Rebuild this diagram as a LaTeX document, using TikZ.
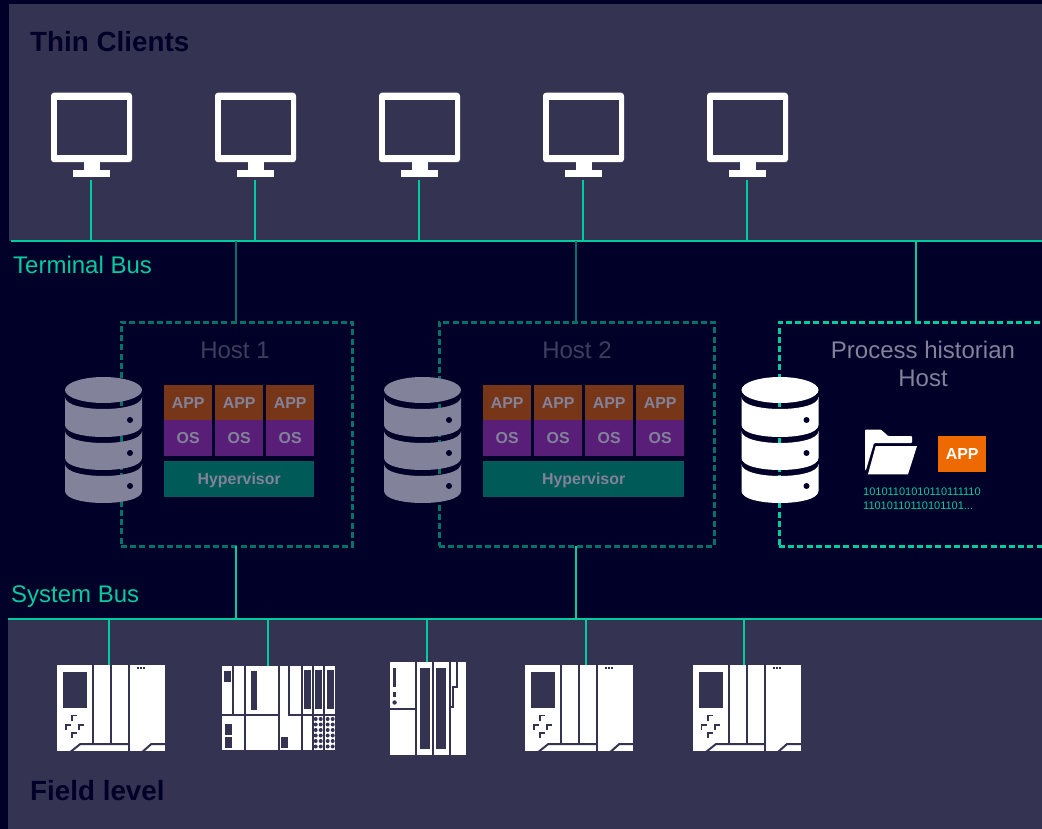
\documentclass[tikz,border=0pt]{standalone}
\usepackage{fontspec}
\setmainfont{Liberation Sans}
\usepackage{tikz}
\definecolor{nuit}{HTML}{000028}
\definecolor{ardoise}{HTML}{343452}
\definecolor{vert}{HTML}{00CCA0}
\definecolor{sapin}{HTML}{007268}
\definecolor{brun}{HTML}{783618}
\definecolor{mauve}{HTML}{581E78}
\definecolor{canard}{HTML}{005A58}
\definecolor{gris}{HTML}{82829A}
\definecolor{brume}{HTML}{3E3E5C}
\definecolor{orange}{HTML}{EE6A00}
\tikzset{
  panel/.style={
    rectangle,
    anchor=north west,
    inner sep=0pt,
    fill=ardoise},
  bus/.style={
    line width=2.2pt,
    vert},
  busdim/.style={
    line width=2.2pt,
    sapin},
  hostbox/.style={
    rectangle,
    anchor=north west,
    inner sep=0pt,
    outer sep=0pt,
    line width=3pt,
    dash pattern=on 6pt off 3.2pt},
  stackbox/.style={
    rectangle,
    anchor=north west,
    inner sep=0pt,
    text=gris,
    text height=11.4pt,
    text depth=0pt,
    font=\fontsize{15.9}{18}\selectfont\bfseries},
  big/.style={
    inner sep=0pt,
    font=\fontsize{24}{28.5}\selectfont},
  title/.style={
    anchor=base west,
    inner sep=0pt,
    text=nuit,
    font=\fontsize{27.8}{32}\selectfont\bfseries},
  cut/.style={
    line width=2pt,
    draw=ardoise},
  pics/client/.style={code={
    \node[rectangle,
      inner sep=0pt,
      outer sep=0pt,
      fill=white,
      rounded corners=3pt,
      minimum width=81pt,
      minimum height=69.5pt] (-screen) at (0,-7.5) {};
    \fill[ardoise] (-34.7,-35) rectangle (35.3,20);
    \fill[white] (-8,26) rectangle (8,36);
    \fill[white] (-18.5,35) rectangle (18.5,42);
    \coordinate (-foot) at (-0.2,45);
  }},
  pics/disk/.style={code={
    \fill[#1] (0,0) ellipse [x radius=38.5pt, y radius=13pt];
    \fill[#1] (-38.5,7) .. controls (-38.5,23) and (38.5,23) .. (38.5,7)
      -- (38.5,35) .. controls (38.5,51) and (-38.5,51) .. (-38.5,35) -- cycle;
    \fill[#1] (-38.5,41) .. controls (-38.5,57) and (38.5,57) .. (38.5,41)
      -- (38.5,68) .. controls (38.5,84) and (-38.5,84) .. (-38.5,68) -- cycle;
    \fill[#1] (-38.5,74) .. controls (-38.5,90) and (38.5,90) .. (38.5,74)
      -- (38.5,101) .. controls (38.5,117) and (-38.5,117) .. (-38.5,101) -- cycle;
    \fill[nuit] (26.5,30) circle (3pt);
    \fill[nuit] (26.5,63) circle (3pt);
    \fill[nuit] (26.5,96) circle (3pt);
  }},
  pics/plca/.style={code={
    \fill[white] (0,0) rectangle (108,86);
    \fill[ardoise] (6,7) rectangle (30,43);
    \draw[cut] (36,0) -- (36,79);
    \draw[cut] (54,0) -- (54,79);
    \draw[cut] (72,0) -- (72,86);
    \draw[cut] (13,87) -- (23,79) -- (71,79);
    \draw[cut] (85,87) -- (94,79) -- (109,79);
    \draw[cut,line width=1.7pt] (15,56) -- (15,50.5) -- (20,50.5);
    \draw[cut,line width=1.7pt] (8.5,65) -- (8.5,60) -- (13.5,60);
    \draw[cut,line width=1.7pt] (22,65) -- (22,60) -- (27,60);
    \draw[cut,line width=1.7pt] (15,73) -- (15,68) -- (20,68);
    \fill[ardoise] (80,2) rectangle (82,4);
    \fill[ardoise] (83,2) rectangle (85,4);
    \fill[ardoise] (86,2) rectangle (88,4);
  }},
  pics/plcb/.style={code={
    \fill[white] (0,0) rectangle (113,84);
    \draw[cut] (11.3,0) -- (11.3,49);
    \draw[cut] (23,0) -- (23,84);
    \draw[cut] (0,49) -- (56.7,49);
    \draw[cut] (56.7,0) -- (56.7,84);
    \draw[cut] (67.3,0) -- (67.3,49) -- (113,49);
    \draw[cut] (79.7,0) -- (79.7,84);
    \draw[cut] (90.7,0) -- (90.7,84);
    \draw[cut] (102,0) -- (102,84);
    \fill[ardoise] (2.3,5.3) rectangle (9,16);
    \fill[ardoise] (28.7,5) rectangle (35.3,44);
    \fill[ardoise] (81.7,4.3) rectangle (88.7,43.3);
    \fill[ardoise] (93,4.3) rectangle (100,43.3);
    \fill[ardoise] (104.7,4.3) rectangle (111.7,43.3);
    \fill[ardoise] (3.3,58) rectangle (10.3,68.7);
    \fill[ardoise] (3.3,71.3) rectangle (10.3,82);
    \fill[ardoise] (58.7,71.3) rectangle (65.7,82);
    \foreach \u in {93.7,98.7,105.7,110.7}
      \foreach \v in {53,58.5,64,69.5,75,80.5}
        \fill[ardoise] (\u,\v) circle (2pt);
  }},
  pics/plcc/.style={code={
    \fill[white] (0,0) rectangle (76,93);
    \draw[cut] (26.3,0) -- (26.3,93);
    \draw[cut] (0,46.7) -- (26.3,46.7);
    \draw[cut] (43.3,0) -- (43.3,93);
    \draw[cut] (59.7,0) -- (59.7,93);
    \draw[cut] (67.3,0) -- (67.3,25.3) -- (62.7,25.3) -- (62.7,44.7) -- (59.7,44.7);
    \fill[ardoise] (3.4,6) rectangle (5.8,25);
    \fill[ardoise] (3.4,30) rectangle (5.8,35);
    \fill[ardoise] (4.6,40.5) circle (2.2pt);
    \fill[ardoise] (30,6) rectangle (40,87);
    \fill[ardoise] (46.3,6) rectangle (56.3,87);
  }}
}

\begin{document}
\begin{tikzpicture}[x=1pt, y=-1pt]

\useasboundingbox (0,0) rectangle (1042,829);
\fill[nuit] (0,0) rectangle (1042,829);

\coordinate (C1) at (91.5,135);
\coordinate (C2) at (255.5,135);
\coordinate (C3) at (419.5,135);
\coordinate (C4) at (583.5,135);
\coordinate (C5) at (747.5,135);
\coordinate (T0) at (11,241);
\coordinate (T1) at (1042,241);
\coordinate (S0) at (8,619);
\coordinate (S1) at (1042,619);
\coordinate (P1) at (109,665);
\coordinate (P2) at (268,666);
\coordinate (P3) at (427,662);
\coordinate (P4) at (586,665);
\coordinate (P5) at (744,665);

\node[panel,
  minimum width=1033pt,
  minimum height=237pt] (thin) at (9,4) {};

\node[panel,
  minimum width=1034pt,
  minimum height=210pt] (field) at (8,619) {};

\node[title] (thinlabel) at (30,51.3) {Thin Clients};
\node[title] (fieldlabel) at (30,800) {Field level};

\pic (c1) at (C1) {client};
\pic (c2) at (C2) {client};
\pic (c3) at (C3) {client};
\pic (c4) at (C4) {client};
\pic (c5) at (C5) {client};

\draw[bus] (T0) -- (T1);
\draw[bus] (S0) -- (S1);
\draw[bus] (c1-foot) -- (c1-foot |- T0);
\draw[bus] (c2-foot) -- (c2-foot |- T0);
\draw[bus] (c3-foot) -- (c3-foot |- T0);
\draw[bus] (c4-foot) -- (c4-foot |- T0);
\draw[bus] (c5-foot) -- (c5-foot |- T0);

\node[big,
  anchor=base west,
  text=vert] (tlabel) at (13,273.2) {Terminal Bus};

\node[big,
  anchor=base west,
  text=vert] (slabel) at (11,602.2) {System Bus};

\node[hostbox,
  draw=sapin,
  minimum width=231pt,
  minimum height=224pt] (host1) at (121,322) {};

\node[hostbox,
  draw=sapin,
  minimum width=275pt,
  minimum height=224pt] (host2) at (439,322) {};

\node[hostbox,
  draw=vert,
  minimum width=290pt,
  minimum height=224pt] (histo) at (779,322) {};

\draw[busdim] (host1.north -| 236,0) -- (T0 -| 236,0);
\draw[busdim] (host2.north -| 576,0) -- (T0 -| 576,0);
\draw[bus] (histo.north -| 916,0) -- (T0 -| 916,0);
\draw[bus] (host1.south -| 236,0) -- (S0 -| 236,0);
\draw[bus] (host2.south -| 576,0) -- (S0 -| 576,0);

\draw[bus] (P1) -- (P1 |- S0);
\draw[bus] (P2) -- (P2 |- S0);
\draw[bus] (P3) -- (P3 |- S0);
\draw[bus] (P4) -- (P4 |- S0);
\draw[bus] (P5) -- (P5 |- S0);

\node[big,
  anchor=base,
  text=brume] (host1label) at (235,358) {Host 1};

\node[big,
  anchor=base,
  text=brume] (host2label) at (577,358) {Host 2};

\node[big,
  align=center,
  anchor=center,
  text=gris] (histolabel) at (923,364) {Process historian\\Host};

\pic at (103.5,390) {disk=gris};
\pic at (422.5,390) {disk=gris};
\pic at (780,390) {disk=white};

% host 1
\node[stackbox, fill=brun, minimum width=48pt, minimum height=35pt] (a11) at (164,385) {APP};
\node[stackbox, fill=brun, minimum width=48pt, minimum height=35pt] (a12) at (215,385) {APP};
\node[stackbox, fill=brun, minimum width=48pt, minimum height=35pt] (a13) at (266,385) {APP};
\node[stackbox, fill=mauve, minimum width=48pt, minimum height=36pt] (o11) at (164,420) {OS};
\node[stackbox, fill=mauve, minimum width=48pt, minimum height=36pt] (o12) at (215,420) {OS};
\node[stackbox, fill=mauve, minimum width=48pt, minimum height=36pt] (o13) at (266,420) {OS};
\node[stackbox, fill=canard, minimum width=150pt, minimum height=36pt] (hv1) at (164,461) {Hypervisor};

% host 2
\node[stackbox, fill=brun, minimum width=48pt, minimum height=35pt] (a21) at (483,385) {APP};
\node[stackbox, fill=brun, minimum width=48pt, minimum height=35pt] (a22) at (534,385) {APP};
\node[stackbox, fill=brun, minimum width=48pt, minimum height=35pt] (a23) at (585,385) {APP};
\node[stackbox, fill=brun, minimum width=48pt, minimum height=35pt] (a24) at (636,385) {APP};
\node[stackbox, fill=mauve, minimum width=48pt, minimum height=36pt] (o21) at (483,420) {OS};
\node[stackbox, fill=mauve, minimum width=48pt, minimum height=36pt] (o22) at (534,420) {OS};
\node[stackbox, fill=mauve, minimum width=48pt, minimum height=36pt] (o23) at (585,420) {OS};
\node[stackbox, fill=mauve, minimum width=48pt, minimum height=36pt] (o24) at (636,420) {OS};
\node[stackbox, fill=canard, minimum width=201pt, minimum height=36pt] (hv2) at (483,461) {Hypervisor};

% historian
\fill[white, rounded corners=1pt] (865,443) -- (865,429.5) -- (881,429.5) -- (888,436)
  -- (912,436) -- (912,443) -- (874,443) -- (866,470) -- (865,470) -- cycle;
\fill[white] (875.7,446) -- (917,446) -- (908,474.3) -- (868,474.3) -- cycle;

\node[stackbox,
  fill=orange,
  text=white,
  minimum width=48pt,
  minimum height=36pt] (happ) at (938,436) {APP};

\node[anchor=north west,
  inner sep=0pt,
  align=left,
  text=vert,
  font=\fontsize{11}{13.6}\selectfont] (bits) at (863,488) {10101101010110111110\\11010110110101101...};

\pic at (57.3,665) {plca};
\pic at (222,666) {plcb};
\pic at (390,662) {plcc};
\pic at (525.3,665) {plca};
\pic at (693,665) {plca};

\end{tikzpicture}
\end{document}
